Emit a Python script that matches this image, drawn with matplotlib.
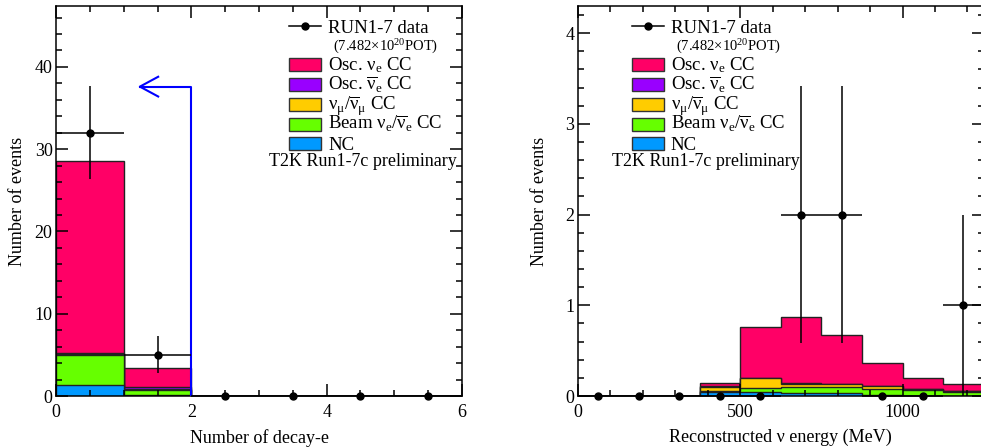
import numpy as np
import matplotlib.pyplot as plt
from matplotlib.patches import Rectangle
from matplotlib.lines import Line2D
from matplotlib.ticker import MultipleLocator

plt.rcParams['font.family'] = ['Liberation Serif', 'DejaVu Serif']
plt.rcParams['mathtext.fontset'] = 'stix'
plt.rcParams['mathtext.default'] = 'regular'

W, H = 981, 448

# ---- left panel: number of decay-e ----
decay_edges = [0, 1, 2, 3, 4, 5, 6]
decay_nc = [1.3, 0.15, 0, 0, 0, 0]
decay_beam = [3.65, 0.55, 0, 0, 0, 0]
decay_numu = [0.15, 0.15, 0, 0, 0, 0]
decay_osc_nuebar = [0.16, 0.25, 0, 0, 0, 0]
decay_osc_nue = [23.34, 2.26, 0, 0, 0, 0]
decay_data = [32, 5, 0, 0, 0, 0]
decay_cut = 2
decay_arrow_top = 37.6
decay_arrow_tip = 1.24

# ---- right panel: reconstructed neutrino energy ----
energy_edges = [0, 125, 250, 375, 500, 625, 750, 875, 1000, 1125, 1250]
energy_nc = [0, 0, 0, 0.04, 0.044, 0.036, 0.03, 0.01, 0.005, 0.005]
energy_beam = [0, 0, 0, 0.018, 0.046, 0.06, 0.073, 0.064, 0.061, 0.042]
energy_numu = [0, 0, 0, 0.042, 0.105, 0.039, 0.025, 0.031, 0.012, 0.006]
energy_osc_nuebar = [0, 0, 0, 0.01, 0.005, 0.005, 0.005, 0.005, 0.004, 0.004]
energy_osc_nue = [0, 0, 0, 0.037, 0.557, 0.727, 0.539, 0.257, 0.116, 0.072]
energy_data = [0, 0, 0, 0, 0, 2, 2, 0, 0, 1]

# stack order bottom -> top
comp_colors = ['#0099ff', '#66ff00', '#ffcc00', '#9900ff', '#ff0066']
legend_colors = ['#ff0066', '#9900ff', '#ffcc00', '#66ff00', '#0099ff']
legend_labels = [r'Osc. ν$_e$ CC',
                 r'Osc. $\overline{ν}_e$ CC',
                 r'$ν_μ/\overline{ν}_μ$ CC',
                 r'Beam $ν_e/\overline{ν}_e$ CC',
                 'NC']
data_label = 'RUN1-7 data'
pot_label = r'(7.482$\times$10$^{20}$POT)'
prelim_label = 'T2K Run1-7c preliminary'


def px(x, y):
    return x / W, 1 - y / H


def draw_stack(ax, edges, comps):
    tops = np.cumsum(np.array(comps), axis=0)
    for top, color in reversed(list(zip(tops, comp_colors))):
        ax.stairs(top, edges, baseline=0, fill=True, color=color, lw=0)
        ax.stairs(top, edges, baseline=0, fill=False, color='#222222', lw=1.0)


def draw_data(ax, edges, data):
    edges = np.array(edges, dtype=float)
    data = np.array(data, dtype=float)
    centers = (edges[:-1] + edges[1:]) / 2
    half = np.diff(edges) / 2
    err = np.sqrt(data)
    ax.errorbar(centers, data, xerr=half, yerr=[np.minimum(err, data), err],
                fmt='o', color='black', ms=5, lw=1.1, capsize=0,
                clip_on=False, zorder=5)


def style_axes(ax, xmaj, xmin, ymaj, ymin):
    ax.xaxis.set_major_locator(MultipleLocator(xmaj))
    ax.xaxis.set_minor_locator(MultipleLocator(xmin))
    ax.yaxis.set_major_locator(MultipleLocator(ymaj))
    ax.yaxis.set_minor_locator(MultipleLocator(ymin))
    ax.tick_params(which='both', direction='in', top=True, right=True,
                   width=1.1, labelsize=13)
    ax.tick_params(which='major', length=8.5)
    ax.tick_params(which='minor', length=4.3)
    ax.tick_params(axis='x', pad=5.5)
    ax.tick_params(axis='y', pad=2.5)
    for s in ax.spines.values():
        s.set_linewidth(1.1)


def draw_legend(fig, box_x):
    # data entry
    y = 26.5
    fig.add_artist(Line2D([box_x / W, (box_x + 32) / W], [px(0, y)[1]] * 2,
                          color='black', lw=1.1))
    fig.add_artist(Line2D([(box_x + 16) / W], [px(0, y)[1]], marker='o',
                          ms=5, color='black'))
    fig.text(*px(box_x + 39, y + 6.5), data_label, fontsize=13.5, va='baseline')
    fig.text(*px(box_x + 44, 51), pot_label, fontsize=10.5, va='baseline')
    for i, (lab, col) in enumerate(zip(legend_labels, legend_colors)):
        yc = 65 + i * 19.75
        fig.add_artist(Rectangle(px(box_x, yc + 6.5), 32 / W, 13 / H,
                                 transform=fig.transFigure, facecolor=col,
                                 edgecolor='#333333', lw=1.0))
        fig.text(*px(box_x + 39, yc + 5.5), lab, fontsize=13.5, va='baseline')
    fig.text(*px(box_x - 20, 166.5), prelim_label, fontsize=13, va='baseline')


fig = plt.figure(figsize=(W / 100, H / 100), dpi=100)
ax1 = fig.add_axes([56 / W, 1 - 396 / H, 406 / W, 390 / H])
ax2 = fig.add_axes([577.7 / W, 1 - 396 / H, 406 / W, 390 / H])

# left
draw_stack(ax1, decay_edges, [decay_nc, decay_beam, decay_numu,
                              decay_osc_nuebar, decay_osc_nue])
draw_data(ax1, decay_edges, decay_data)
ax1.plot([decay_cut, decay_cut, decay_arrow_tip],
         [0, decay_arrow_top, decay_arrow_top], color='#0000ff', lw=1.5,
         zorder=4)
ax1.plot([decay_arrow_tip + 0.27, decay_arrow_tip, decay_arrow_tip + 0.27],
         [decay_arrow_top + 1.2, decay_arrow_top, decay_arrow_top - 1.2],
         color='#0000ff', lw=1.5, zorder=4)
ax1.set_xlim(0, 6)
ax1.set_ylim(0, 47.4)
style_axes(ax1, 2, 0.5, 10, 2)
ax1.set_xlabel('Number of decay-e', fontsize=13, labelpad=6)
ax1.set_ylabel('Number of events', fontsize=13, labelpad=6)

# right
draw_stack(ax2, energy_edges, [energy_nc, energy_beam, energy_numu,
                               energy_osc_nuebar, energy_osc_nue])
draw_data(ax2, energy_edges, energy_data)
ax2.set_xlim(0, 1250)
ax2.set_ylim(0, 4.3)
style_axes(ax2, 500, 100, 1, 0.2)
ax2.set_xlabel('Reconstructed ν energy (MeV)', fontsize=13, labelpad=6)
ax2.set_ylabel('Number of events', fontsize=13, labelpad=12)

draw_legend(fig, 289.3)
draw_legend(fig, 631.7)

fig.savefig('out.png', dpi=100)
